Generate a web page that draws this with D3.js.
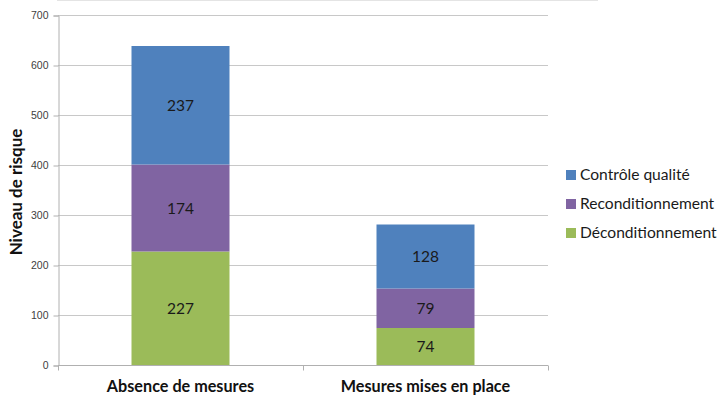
<!DOCTYPE html>
<html>
<head>
<meta charset="utf-8">
<script src="https://cdn.jsdelivr.net/npm/d3@7"></script>
<style>
  html, body { margin: 0; padding: 0; background: #fff; }
  svg { display: block; font-family: Lato, "Open Sans", sans-serif; }
</style>
</head>
<body>
<svg id="chart" width="721" height="395"></svg>
<script>
// Risk levels per scenario, stacked by process stage
const categories = ["Absence de mesures", "Mesures mises en place"];
const deconditionnement = [227, 74];
const reconditionnement = [174, 79];
const controleQualite = [237, 128];
const seriesNames = ["Déconditionnement", "Reconditionnement", "Contrôle qualité"];
const seriesColors = ["#9BBB59", "#8064A2", "#4F81BD"];
const yTicks = [0, 100, 200, 300, 400, 500, 600, 700];

const svg = d3.select("#chart");
const plot = { left: 58, right: 548, top: 15, bottom: 365 };

const table = categories.map((c, i) => ({
  category: c,
  "Déconditionnement": deconditionnement[i],
  "Reconditionnement": reconditionnement[i],
  "Contrôle qualité": controleQualite[i]
}));
const stacked = d3.stack().keys(seriesNames)(table);

const x = d3.scaleBand().domain(categories).range([plot.left, plot.right]).paddingInner(0).paddingOuter(0);
const y = d3.scaleLinear().domain([0, 700]).range([plot.bottom, plot.top]);
const barW = x.bandwidth() * 0.4;

// faint frame edge along the top
svg.append("line").attr("x1", 57).attr("x2", 598).attr("y1", 0.5).attr("y2", 0.5)
  .attr("stroke", "#e4e4e4").attr("stroke-width", 1);

// horizontal gridlines
svg.append("g").selectAll("line").data(yTicks.filter(d => d > 0)).join("line")
  .attr("x1", plot.left).attr("x2", plot.right)
  .attr("y1", d => Math.round(y(d)) + 0.5).attr("y2", d => Math.round(y(d)) + 0.5)
  .attr("stroke", "#c8c8c8").attr("stroke-width", 1);

// y axis
const yAxis = svg.append("g").attr("transform", `translate(${plot.left + 0.5},0.5)`)
  .call(d3.axisLeft(y).tickValues(yTicks).tickSize(5).tickPadding(5).tickFormat(d3.format("d")));
yAxis.select(".domain").attr("stroke", "#b0b0b0");
yAxis.selectAll(".tick line").attr("stroke", "#b0b0b0");
yAxis.selectAll(".tick text").attr("fill", "#404040").attr("font-size", 10.5);

// bars
const layers = svg.append("g").selectAll("g").data(stacked).join("g")
  .attr("fill", (d, i) => seriesColors[i]);
layers.selectAll("rect").data(d => d.map(v => ({ v, key: d.key }))).join("rect")
  .attr("x", d => x(d.v.data.category) + (x.bandwidth() - barW) / 2)
  .attr("width", barW)
  .attr("y", d => y(d.v[1]))
  .attr("height", d => y(d.v[0]) - y(d.v[1]));

// value labels in segment centres
layers.selectAll("text").data(d => d.map(v => ({ v, key: d.key }))).join("text")
  .attr("x", d => x(d.v.data.category) + x.bandwidth() / 2)
  .attr("y", d => (y(d.v[0]) + y(d.v[1])) / 2)
  .attr("dy", "0.36em")
  .attr("text-anchor", "middle")
  .attr("font-size", 15.5)
  .attr("fill", "#1a1a1a")
  .text(d => d.v.data[d.key]);

// x axis
const xAxis = svg.append("g").attr("transform", `translate(0,${plot.bottom + 0.5})`);
xAxis.append("line").attr("x1", plot.left).attr("x2", plot.right)
  .attr("stroke", "#b0b0b0");
xAxis.selectAll("line.tk").data([plot.left, (plot.left + plot.right) / 2, plot.right]).join("line")
  .attr("class", "tk")
  .attr("x1", d => Math.round(d) + 0.5).attr("x2", d => Math.round(d) + 0.5)
  .attr("y1", 0).attr("y2", 5).attr("stroke", "#b0b0b0");
xAxis.selectAll("text").data(categories).join("text")
  .attr("x", d => x(d) + x.bandwidth() / 2)
  .attr("y", 26)
  .attr("text-anchor", "middle")
  .attr("font-size", 16.2).attr("font-weight", "bold").attr("fill", "#111")
  .text(d => d);

// y axis title
svg.append("text")
  .attr("transform", `translate(22,${(plot.top + plot.bottom) / 2 + 2}) rotate(-90)`)
  .attr("text-anchor", "middle")
  .attr("font-size", 17).attr("font-weight", "bold").attr("fill", "#111")
  .text("Niveau de risque");

// legend, top entry is the top of the stack
const legendItems = seriesNames.map((n, i) => ({ name: n, color: seriesColors[i] })).reverse();
const legend = svg.append("g").attr("transform", "translate(566,175)");
const li = legend.selectAll("g").data(legendItems).join("g")
  .attr("transform", (d, i) => `translate(0,${i * 29})`);
li.append("rect").attr("x", 0).attr("y", -5).attr("width", 10).attr("height", 10).attr("fill", d => d.color);
li.append("text").attr("x", 14).attr("dy", "0.35em")
  .attr("font-size", 15.6).attr("fill", "#1a1a1a").text(d => d.name);
</script>
</body>
</html>
